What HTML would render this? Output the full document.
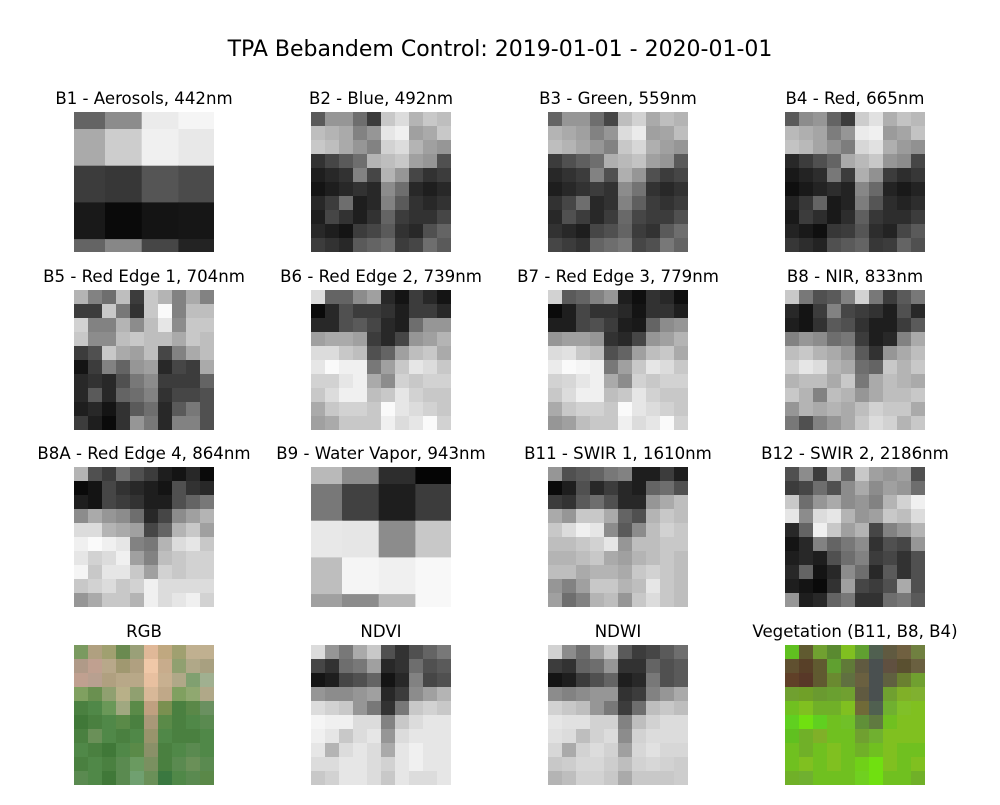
<!DOCTYPE html>
<html><head><meta charset="utf-8"><style>
body{margin:0;background:#fff;width:1000px;height:800px;overflow:hidden}
svg text{font-family:"DejaVu Sans","Liberation Sans",sans-serif;fill:#000}
</style></head><body>
<svg id="fig" width="1000" height="800" xmlns="http://www.w3.org/2000/svg">
<text x="500" y="56" text-anchor="middle" font-size="22">TPA Bebandem Control: 2019-01-01 - 2020-01-01</text>
</svg>
<script>
// panel titles
const titles = ["B1 - Aerosols, 442nm","B2 - Blue, 492nm","B3 - Green, 559nm","B4 - Red, 665nm",
"B5 - Red Edge 1, 704nm","B6 - Red Edge 2, 739nm","B7 - Red Edge 3, 779nm","B8 - NIR, 833nm",
"B8A - Red Edge 4, 864nm","B9 - Water Vapor, 943nm","B11 - SWIR 1, 1610nm","B12 - SWIR 2, 2186nm",
"RGB","NDVI","NDWI","Vegetation (B11, B8, B4)"];
const b1 = [[100,140,235,245],[170,205,240,232],[60,55,85,75],[25,10,20,22],[100,135,70,35]];
const b9 = [[185,140,45,5],[120,65,30,60],[232,230,140,200],[190,245,240,248],[160,140,185,248]];
const b2 = [[90,150,150,110,60,200,220,180,200,190],[190,180,170,130,150,230,240,160,170,200],[200,190,170,150,130,210,220,180,160,150],[50,70,90,110,180,190,200,160,150,80],[30,40,50,130,70,180,150,70,50,60],[20,30,40,50,40,140,110,40,30,40],[40,60,110,30,40,130,90,50,40,50],[30,70,50,30,50,100,60,50,50,70],[40,30,20,60,70,90,50,40,80,100],[60,50,40,90,100,110,60,70,110,90]];
const b3 = [[100,150,150,110,70,190,210,170,190,180],[180,170,160,130,150,220,235,160,165,190],[190,180,165,150,130,200,215,175,160,150],[60,80,95,110,175,185,195,160,150,90],[40,50,60,130,80,175,150,80,60,70],[30,40,50,60,50,140,115,50,40,50],[50,70,110,40,50,130,95,60,50,60],[40,80,60,40,60,105,70,60,60,80],[50,40,30,70,80,100,60,50,90,110],[70,60,50,100,110,120,70,80,120,100]];
const b4 = [[90,140,150,100,60,205,225,175,195,185],[185,175,165,125,150,235,240,155,165,195],[195,185,165,145,125,215,225,175,155,145],[40,60,80,100,170,185,200,150,140,70],[25,35,45,120,60,175,145,60,45,55],[15,25,35,45,35,135,105,35,25,35],[35,55,100,25,35,125,85,45,35,45],[25,60,45,25,45,95,55,45,45,60],[35,25,15,55,60,85,45,35,70,90],[55,45,35,80,90,100,55,60,100,80]];
const b5 = [[180,130,110,190,60,200,180,130,170,130],[60,60,200,120,50,200,250,130,190,190],[210,130,130,180,140,190,230,140,200,200],[200,140,140,190,200,190,190,170,200,190],[60,80,200,170,160,190,70,130,170,190],[20,60,130,100,150,160,40,70,60,170],[40,50,40,80,120,140,60,60,60,100],[40,90,40,100,110,130,50,70,70,80],[30,40,20,50,90,110,40,90,120,80],[60,30,10,50,150,120,40,130,130,80]];
const b6 = [[220,100,100,140,160,40,20,60,40,20],[10,40,80,60,60,50,30,60,60,40],[40,40,80,90,70,40,30,110,150,150],[160,170,170,160,60,40,70,150,160,180],[220,220,200,190,80,100,160,190,200,170],[230,250,240,240,120,160,200,230,220,200],[210,210,230,240,170,140,210,200,210,210],[200,220,240,240,190,200,230,210,200,200],[170,200,210,210,200,250,230,220,210,200],[160,170,200,200,200,240,220,230,250,210]];
const b7 = [[210,90,100,130,150,30,15,50,40,15],[10,30,70,50,50,40,20,50,50,30],[30,30,70,80,60,30,25,100,140,150],[150,160,160,150,50,40,70,150,160,180],[220,225,200,190,80,100,160,190,200,170],[235,250,245,240,120,160,200,230,220,200],[210,215,230,240,170,140,210,200,210,210],[200,220,240,240,190,200,230,210,200,200],[170,200,210,210,200,250,230,220,210,200],[150,160,190,200,200,240,220,230,250,210]];
const b8 = [[200,120,80,90,130,210,120,60,90,120],[40,20,60,130,70,60,50,30,80,40],[30,20,50,90,80,50,30,30,60,90],[130,150,140,110,120,60,30,40,130,170],[190,200,180,170,150,90,50,150,170,190],[210,230,220,180,170,110,100,200,180,200],[180,190,190,170,200,120,170,190,180,170],[200,180,130,190,180,150,170,190,190,200],[150,180,170,180,170,190,210,200,200,170],[120,80,130,150,170,200,220,210,180,200]];
const b8a = [[180,80,60,110,80,60,30,20,40,10],[10,20,70,50,40,30,20,80,50,40],[30,20,70,60,50,30,30,80,100,120],[140,170,150,140,110,40,70,140,160,180],[220,220,180,170,160,70,100,180,200,160],[240,250,240,230,130,120,180,220,230,200],[230,210,220,240,160,130,190,200,210,210],[245,200,230,230,200,160,210,200,210,210],[200,210,220,200,210,240,220,220,220,220],[150,170,200,200,180,240,220,230,240,210]];
const b11 = [[150,80,90,100,120,130,30,30,60,30],[10,30,80,40,60,40,30,100,110,80],[60,50,90,110,80,40,40,150,170,190],[170,150,200,200,170,100,80,180,200,190],[200,220,240,230,140,90,140,190,210,200],[190,190,200,210,230,150,190,190,200,200],[180,180,190,200,170,160,180,190,200,190],[190,190,170,180,180,170,200,210,200,190],[150,130,160,200,200,180,190,230,200,190],[160,110,130,180,190,150,200,220,200,190]];
const b12 = [[80,140,60,170,100,200,160,150,160,80],[60,70,110,80,140,170,140,160,150,110],[200,110,150,170,140,150,130,180,210,240],[230,140,220,230,180,150,160,200,190,220],[40,100,240,200,160,180,70,130,150,180],[20,40,130,100,120,140,50,80,70,150],[30,40,30,80,110,130,60,70,50,80],[40,100,20,40,140,110,40,90,50,80],[30,20,10,50,160,70,60,80,170,80],[150,30,40,100,120,50,50,110,120,90]];
const ndvi = [[220,150,120,170,200,80,50,80,100,120],[70,50,110,120,160,40,50,110,80,90],[20,30,70,80,100,20,40,130,70,80],[150,140,140,150,160,40,60,140,160,180],[220,210,200,150,120,50,120,200,210,200],[245,240,240,220,220,130,200,220,230,230],[240,230,200,220,230,150,220,230,230,230],[230,180,220,230,220,170,230,240,230,230],[220,220,230,230,220,210,230,240,230,230],[200,210,230,230,220,200,230,220,220,230]];
const ndwi = [[210,140,110,160,200,90,60,70,90,110],[60,50,100,110,150,50,50,100,80,90],[20,30,60,80,100,30,40,120,80,90],[140,130,140,150,150,50,60,130,150,170],[210,200,190,150,120,60,110,190,200,190],[230,225,225,210,210,130,190,210,220,220],[225,220,190,210,220,140,210,220,220,220],[215,170,210,220,210,160,215,225,215,215],[200,205,215,215,205,190,210,215,210,205],[180,190,210,210,200,170,200,200,200,205]];
const rgb = [["7a9a60","b0a080","a0a070","6a8a50","9aa078","e0b898","c0a880","a0a070","c0b090","c0b090"],["b09a88","c0a090","b8a88a","a09870","b0a080","f0c8a8","c8ac8c","90a070","b0a888","a8a080"],["c0a090","b8a090","b0a080","b8a888","b8a888","e8c0a0","c8b090","b0a888","80a070","a0b090"],["80a060","6a9050","90a070","b8b088","90a070","d8b898","c0a888","80a060","90a870","b0a888"],["4a8040","508848","6a9858","a0a880","5a8a48","c0a080","7a9050","4a8040","5a8848","6a9060"],["407838","4a8040","508848","5a8a48","4a8040","a89878","5a8a48","4a8040","508848","5a8a50"],["4a8040","6a9058","508848","4a8040","508848","98946c","508848","4a8040","4a8040","508848"],["508848","4a8040","407838","508848","5a8a48","8a9068","4a8040","508848","5a8a50","508848"],["4a8040","508848","4a8040","5a8a50","6a9a60","7a9060","4a8040","5a8a50","6a9058","5a8a50"],["5a8a50","508848","407838","5a8a50","70a070","6a9058","3a7840","508848","5a8a50","5a8848"]];
const veg = [["60c020","605a30","70a030","5a8a30","80c020","60a030","506050","605a40","706040","708040"],["605030","584028","605a30","60a030","607a38","605a40","4a5050","605040","5a5030","6a6040"],["604028","583828","605a30","6a8a30","607040","6a6040","4a5050","606040","6a8030","70a030"],["70a030","70a028","6a9a30","6aa030","70a030","605a40","4a5050","70a030","80b028","80b030"],["70c020","80c020","70b028","70b028","80c020","706a38","506050","70b030","80c028","80c020"],["60d020","70e010","60d020","70c020","70c028","609038","607a40","70c020","80c020","80c020"],["60c020","70b028","80b028","70c020","70c020","70a030","70b030","80c020","80c020","80c020"],["70c020","70b028","70c020","80c020","70c020","70b028","70c020","80c020","70c020","70c020"],["70c020","80c020","70c020","80c020","70c020","70d018","70e010","80c020","70c020","80c020"],["70b028","70b030","70c020","70c020","70c020","70d020","70e010","70c020","70c020","70b028"]];
const panels = [b1,b2,b3,b4,b5,b6,b7,b8,b8a,b9,b11,b12,rgb,ndvi,ndwi,veg];

const NS="http://www.w3.org/2000/svg";
const fig=document.getElementById('fig');
const colX=[74,311,548,785], rowY=[112,290,467,645], S=140;
function cellColor(v){ return typeof v==='string' ? '#'+v : `rgb(${v},${v},${v})`; }
panels.forEach((grid,i)=>{
  const px=colX[i%4], py=rowY[Math.floor(i/4)];
  const t=document.createElementNS(NS,'text');
  
  
  t.setAttribute('x',px+S/2); t.setAttribute('y',py-8);
  t.setAttribute('text-anchor','middle'); t.setAttribute('font-size','16.6');
  t.textContent=titles[i]; fig.appendChild(t);
  const sv=document.createElementNS(NS,'svg');
  
  
  sv.setAttribute('x',px); sv.setAttribute('y',py); sv.setAttribute('width',S); sv.setAttribute('height',S);
  sv.setAttribute('overflow','hidden');
  const nr=grid.length, nc=grid[0].length;
  const coarse = nc===4;
  const cw = coarse ? 36.7 : S/nc, ch = coarse ? 36.7 : S/nr;
  const ox = coarse ? -5.7 : 0, oy = coarse ? -19.7 : 0;
  for(let r=0;r<nr;r++) for(let c=0;c<nc;c++){
    const rc=document.createElementNS(NS,'rect');
    
    
    rc.setAttribute('x',(ox+c*cw).toFixed(2)); rc.setAttribute('y',(oy+r*ch).toFixed(2));
    rc.setAttribute('width',(cw+0.6).toFixed(2)); rc.setAttribute('height',(ch+0.6).toFixed(2));
    rc.setAttribute('fill',cellColor(grid[r][c]));
    sv.appendChild(rc);
  }
  fig.appendChild(sv);
});
</script>
</body></html>
